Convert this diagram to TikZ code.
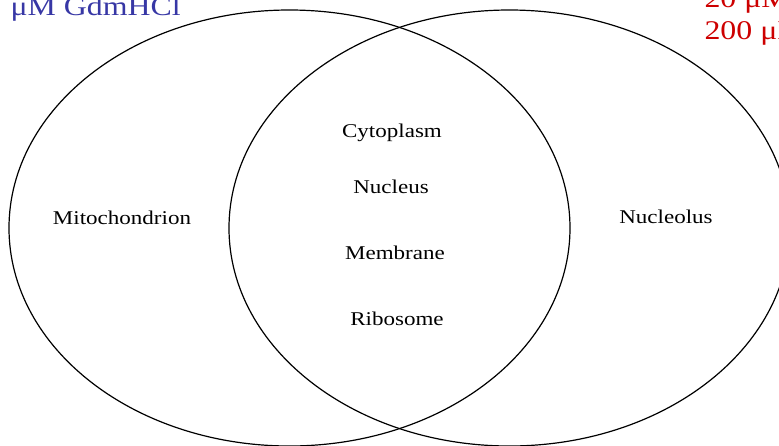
\documentclass[tikz,border=0pt]{standalone}
\usepackage{fontspec}
\setmainfont[FakeStretch=1.18]{Liberation Serif}
\definecolor{conclow}{RGB}{55,55,165}
\definecolor{conchigh}{RGB}{205,0,0}

\begin{document}
\begin{tikzpicture}[x=1pt, y=-1pt,
    place/.style={anchor=base, font=\fontsize{19.5}{23}\selectfont},
    conc/.style={anchor=base west, font=\fontsize{27}{32}\selectfont}]
      \def\rx{280.5}
      \def\ry{218}

      \useasboundingbox (0,0) rectangle (779,445);

      % the two sets
      \draw[line width=1.2pt] (289.5,228) ellipse [x radius=\rx, y radius=\ry];
      \draw[line width=1.2pt] (509.5,228) ellipse [x radius=\rx, y radius=\ry];

      % concentrations, cut off at the edges
      \node[conc, conclow] (low) at (7,15) {μM GdmHCl};
      \node[conc, conchigh] (mid) at (701,7) {20 μM};
      \node[conc, conchigh] (high) at (701,39) {200 μM};

      % left only
      \node[place] (mito) at (122,224) {Mitochondrion};
      % shared
      \node[place] (cyto) at (392,137.5) {Cytoplasm};
      \node[place] (nucl) at (391,193) {Nucleus};
      \node[place] (memb) at (395,259) {Membrane};
      \node[place] (ribo) at (397,325) {Ribosome};
      % right only
      \node[place] (nclo) at (666,223.5) {Nucleolus};

    \end{tikzpicture}
\end{document}
